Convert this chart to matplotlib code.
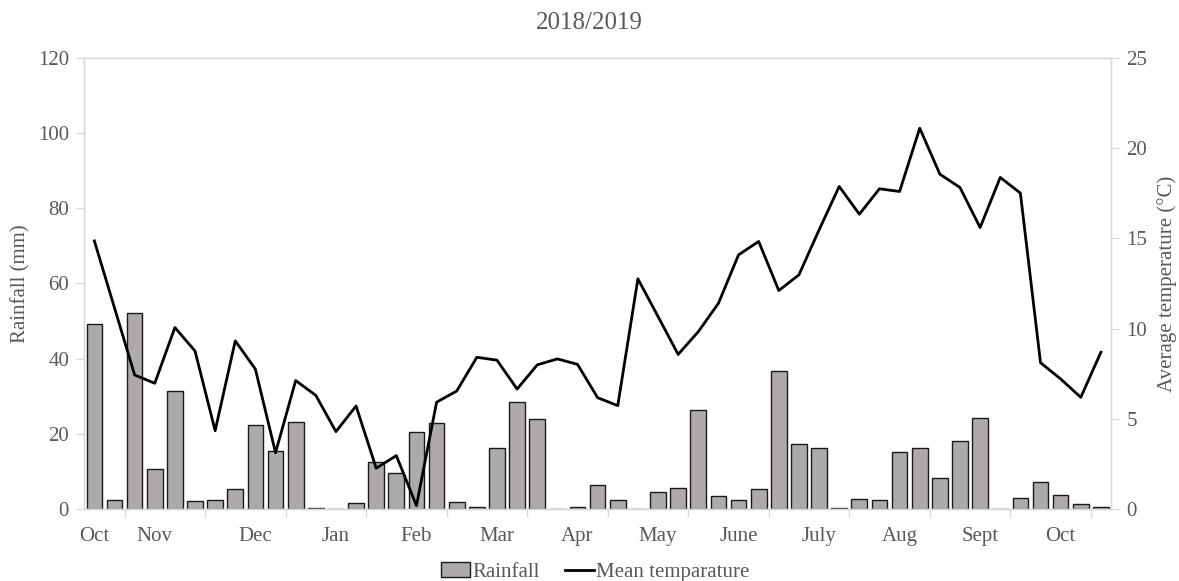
import numpy as np
import matplotlib.pyplot as plt

# weekly rainfall (mm) and mean temperature (degC), Oct 2018 - Oct 2019
rainfall = [49.2, 2.3, 52.1, 10.6, 31.3, 2.0, 2.3, 5.2, 22.4, 15.4,
            23.1, 0.4, 0.0, 1.5, 12.5, 9.6, 20.5, 22.8, 1.9, 0.45,
            16.2, 28.6, 24.0, 0.0, 0.45, 6.3, 2.3, 0.0, 4.5, 5.6,
            26.4, 3.5, 2.3, 5.2, 36.8, 17.4, 16.3, 0.3, 2.7, 2.3,
            15.3, 16.3, 8.3, 18.0, 24.3, 0.0, 3.0, 7.3, 3.7, 1.3,
            0.45]
temperature = [14.86, 11.15, 7.43, 6.97, 10.06, 8.76, 4.34, 9.32, 7.75, 3.12,
               7.12, 6.30, 4.29, 5.71, 2.26, 2.96, 0.19, 5.92, 6.54, 8.41,
               8.25, 6.65, 7.99, 8.32, 8.02, 6.17, 5.73, 12.76, 10.67, 8.57,
               9.83, 11.40, 14.09, 14.83, 12.11, 12.98, 15.47, 17.88, 16.34, 17.75,
               17.60, 21.11, 18.56, 17.82, 15.60, 18.38, 17.51, 8.11, 7.21, 6.19,
               8.69]
month_labels = ["Oct", "Nov", "Dec", "Jan", "Feb", "Mar", "Apr", "May",
                "June", "July", "Aug", "Sept", "Oct"]
month_pos = [0, 3, 8, 12, 16, 20, 24, 28, 32, 36, 40, 44, 48]

TXT = "#595959"
AX = "#d9d9d9"
FS = 15
plt.rcParams["font.family"] = ["Liberation Serif", "DejaVu Serif"]

fig = plt.figure(figsize=(11.79, 5.81), dpi=100)
ax = fig.add_axes([0.0715, 0.1239, 0.8708, 0.7763])
ax2 = ax.twinx()

x = np.arange(len(rainfall))
bars = ax.bar(x, rainfall, width=0.78, color="#aeaaaa", edgecolor="#1a1a1a",
              linewidth=1.0, label="Rainfall", zorder=2)
line, = ax2.plot(x, temperature, color="black", linewidth=2.0,
                 label="Mean temparature", zorder=3)

ax.set_xlim(-0.5, len(rainfall) - 0.5)
ax.set_ylim(0, 120)
ax.set_yticks(range(0, 121, 20))
ax2.set_ylim(0, 25)
ax2.set_yticks(range(0, 26, 5))

ax.set_xticks(month_pos)
ax.set_xticklabels(month_labels)
ax.set_xticks(np.arange(1.5, len(rainfall), 4), minor=True)
ax.tick_params(axis="x", which="major", length=0, pad=13, labelsize=FS, labelcolor=TXT)
ax.tick_params(axis="x", which="minor", length=6, color=AX, width=1)
ax.tick_params(axis="y", length=6, color=AX, labelsize=FS, labelcolor=TXT, pad=5)
ax2.tick_params(axis="y", length=6, color=AX, labelsize=FS, labelcolor=TXT, pad=5)

for a in (ax, ax2):
    for s in a.spines.values():
        s.set_color(AX)
        s.set_linewidth(1)

ax.set_ylabel("Rainfall (mm)", fontsize=FS, color=TXT, labelpad=5)
ax2.set_ylabel("Average temperature (\u00b0C)", fontsize=FS, color=TXT, labelpad=7)
fig.text(0.5, 0.96, "2018/2019", ha="center", va="center", fontsize=18, color=TXT)

fig.legend(handles=[bars, line], loc="center", bbox_to_anchor=(0.505, 0.015),
           ncol=2, frameon=False, fontsize=FS, handlelength=1.4, handletextpad=0.1,
           columnspacing=1.2, labelcolor=TXT)

fig.savefig("out.png", dpi=100)
